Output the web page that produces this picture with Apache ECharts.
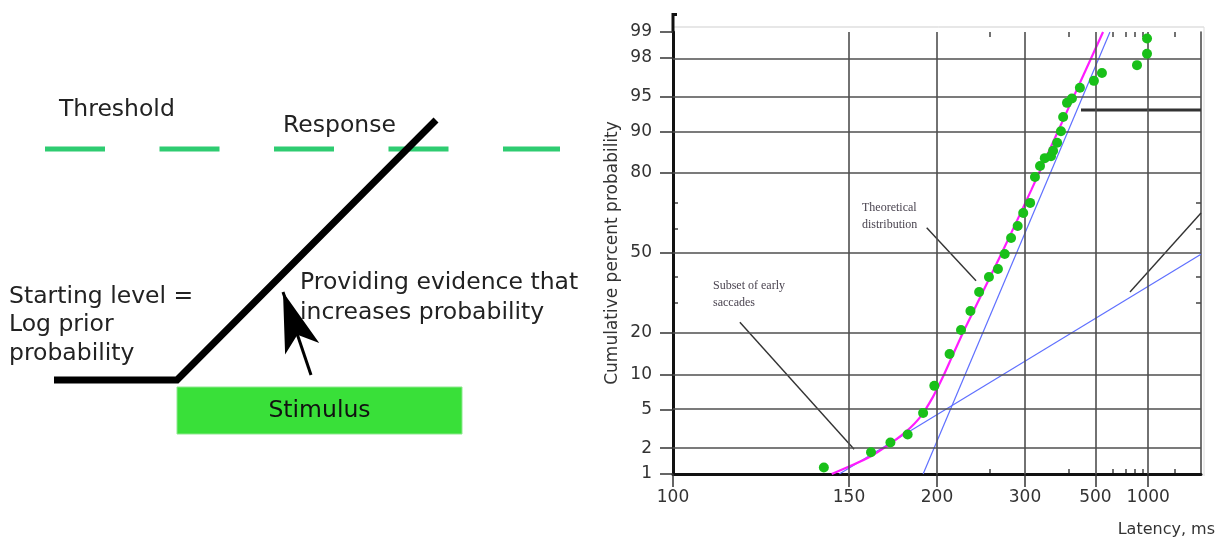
<!DOCTYPE html>
<html>
<head>
<meta charset="utf-8">
<script src="https://cdn.jsdelivr.net/npm/echarts@6/dist/echarts.min.js"></script>
<style>
  html, body { margin: 0; padding: 0; background: #fff; }
  #chart { width: 1223px; height: 540px; }
</style>
</head>
<body>
<div id="chart"></div>
<script>
// ---- LATER model sketch (diagram units: time across, decision level up) ----
const thresholdTime = [4.5, 56];
const thresholdLevel = [39.1, 39.1];
const responseTime = [5.4, 17.7, 43.6];
const responseLevel = [16, 16, 42];
const stimulusTime = [17.7, 46.2];
const stimulusLevel = [10.6, 15.3];
const evidenceArrowTime = [31.1, 28.3];
const evidenceArrowLevel = [16.5, 24.8];

// ---- Reciprobit plot: saccade latency (ms) vs cumulative percent ----
const latencyTicks = [100, 150, 200, 300, 500, 1000];
const latencyMinorTicks = [250, 400, 600, 700, 800, 900, 2000];
const percentTicks = [1, 2, 5, 10, 20, 50, 80, 90, 95, 98, 99];
const percentMinorTicks = [30, 40, 60, 70];

const saccadeLatency = [140, 160, 170, 180, 190, 198, 210, 220, 229, 238, 249, 260, 269, 278, 288, 297, 309,
  318, 328, 338, 352, 357, 367, 377, 383, 394, 409, 436, 493, 533, 825, 978, 978];
const saccadePercent = [1.2, 1.8, 2.3, 2.8, 4.6, 8.1, 14.4, 20.9, 27.1, 34.1, 40.0, 43.3, 49.6, 56.3, 61.2, 66.3, 70.1,
  78.8, 82.0, 84.1, 84.6, 85.9, 87.7, 90.0, 92.4, 94.3, 94.8, 95.9, 96.5, 97.1, 97.6, 98.2, 98.8];

const theoryLatency = [143, 152, 159.5, 168, 179, 188, 197, 205, 212, 223, 265, 311, 396, 539];
const theoryPercent = [1, 1.3, 1.6, 2.1, 3.0, 4.2, 6.5, 9.8, 13.7, 20.9, 50, 74.6, 93.4, 99];

const mainLineLatency = [190, 580];
const mainLinePercent = [1, 99];
const earlyLineLatency = [146, Infinity];
const earlyLinePercent = [1, 49.5];

// pointer lines for the annotations
const theoryPointerLatency = [192.5, 234.7];
const theoryPointerPercent = [60.5, 38.5];
const earlyPointerLatency = [114.5, 152.2];
const earlyPointerPercent = [23.3, 1.94];
const sidePointerLatency = [743.5, Infinity];
const sidePointerPercent = [34.1, 66.3];
const sideBarLatency = [440, Infinity];
const sideBarPercent = [93.4, 93.4];

// inverse normal CDF (Acklam), used for the probit axis
function probit(pct) {
  const p = pct / 100;
  const a = [-39.69683028665376, 220.9460984245205, -275.9285104469687, 138.3577518672690, -30.66479806614716, 2.506628277459239];
  const b = [-54.47609879822406, 161.5858368580409, -155.6989798598866, 66.80131188771972, -13.28068155288572];
  const c = [-0.007784894002430293, -0.3223964580411365, -2.400758277161838, -2.549732539343734, 4.374664141464968, 2.938163982698783];
  const d = [0.007784695709041462, 0.3224671290700398, 2.445134137142996, 3.754408661907416];
  const pl = 0.02425;
  let q, r;
  if (p < pl) {
    q = Math.sqrt(-2 * Math.log(p));
    return (((((c[0]*q+c[1])*q+c[2])*q+c[3])*q+c[4])*q+c[5]) / ((((d[0]*q+d[1])*q+d[2])*q+d[3])*q+1);
  }
  if (p <= 1 - pl) {
    q = p - 0.5; r = q * q;
    return (((((a[0]*r+a[1])*r+a[2])*r+a[3])*r+a[4])*r+a[5])*q / (((((b[0]*r+b[1])*r+b[2])*r+b[3])*r+b[4])*r+1);
  }
  q = Math.sqrt(-2 * Math.log(1 - p));
  return -(((((c[0]*q+c[1])*q+c[2])*q+c[3])*q+c[4])*q+c[5]) / ((((d[0]*q+d[1])*q+d[2])*q+d[3])*q+1);
}
// reciprocal latency axis: -1/t (in 1/s), infinity sits at 0
const recip = t => -1000 / t;
const toPlot = (lat, pct) => lat.map((t, i) => [recip(t), probit(pct[i])]);
const zip = (xs, ys) => xs.map((x, i) => [x, ys[i]]);

const percentLabel = z => {
  let best = percentTicks[0];
  for (const p of percentTicks) if (Math.abs(probit(p) - z) < Math.abs(probit(best) - z)) best = p;
  return String(best);
};

const FONT = 'DejaVu Sans';
const GRID_COLOR = '#4f4f4f';
const pctMin = probit(percentTicks[0]);
const pctMax = probit(percentTicks[percentTicks.length - 1]);

const chart = echarts.init(document.getElementById('chart'), null, { renderer: 'canvas' });

const hidden = { show: false };
const minorTick = values => ({ show: true, inside: true, customValues: values, length: 5, lineStyle: { color: '#444', width: 1.5 } });
const option = {
  backgroundColor: '#fff',
  animation: false,
  grid: [
    { left: 0, top: 0, width: 600, height: 540 },
    { left: 673, top: 32, width: 528, height: 442 }
  ],
  xAxis: [
    { gridIndex: 0, type: 'value', min: 0, max: 60, show: false },
    {
      gridIndex: 1, type: 'value', min: -10, max: 0, position: 'bottom', z: 3,
      axisLine: { show: true, onZero: false, lineStyle: { color: '#111', width: 3 } },
      axisTick: { show: true, customValues: latencyTicks.map(recip), length: 13, lineStyle: { color: '#333', width: 1.5 } },
      axisLabel: { customValues: latencyTicks.map(recip), formatter: v => String(Math.round(-1000 / v)),
        fontFamily: FONT, fontSize: 17, color: '#333', margin: 15 },
      splitLine: hidden,
      name: 'Latency, ms', nameLocation: 'end', nameGap: 14,
      nameTextStyle: { fontFamily: FONT, fontSize: 16, color: '#333', align: 'right', verticalAlign: 'top', padding: [48, 0, 0, 0] }
    },
    {
      gridIndex: 1, type: 'value', min: -10, max: 0, position: 'top',
      axisLine: { show: false, onZero: false }, axisLabel: hidden, splitLine: hidden,
      axisTick: minorTick(latencyMinorTicks.map(recip))
    },
    {
      gridIndex: 1, type: 'value', min: -10, max: 0, position: 'bottom',
      axisLine: { show: false, onZero: false }, axisLabel: hidden, splitLine: hidden,
      axisTick: minorTick(latencyMinorTicks.map(recip))
    }
  ],
  yAxis: [
    { gridIndex: 0, type: 'value', min: 0, max: 54, show: false },
    {
      gridIndex: 1, type: 'value', min: pctMin, max: pctMax, position: 'left', z: 3,
      axisLine: { show: true, onZero: false, lineStyle: { color: '#111', width: 3 } },
      axisTick: { show: true, customValues: percentTicks.map(probit), length: 13, lineStyle: { color: '#333', width: 1.5 } },
      axisLabel: { customValues: percentTicks.map(probit), formatter: percentLabel,
        fontFamily: FONT, fontSize: 17, color: '#333', margin: 21 },
      splitLine: hidden,
      name: 'Cumulative percent probability', nameLocation: 'middle', nameGap: 52, nameRotate: 90,
      nameTextStyle: { fontFamily: FONT, fontSize: 17, color: '#333' }
    },
    {
      gridIndex: 1, type: 'value', min: pctMin, max: pctMax, position: 'right',
      axisLine: { show: true, onZero: false, lineStyle: { color: GRID_COLOR, width: 1.6 } }, axisLabel: hidden, splitLine: hidden,
      axisTick: minorTick(percentMinorTicks.map(probit))
    },
    {
      gridIndex: 1, type: 'value', min: pctMin, max: pctMax, position: 'left',
      axisLine: { show: false, onZero: false }, axisLabel: hidden, splitLine: hidden,
      axisTick: minorTick(percentMinorTicks.map(probit))
    }
  ],
  series: [
    // ---------- LATER diagram ----------
    {
      name: 'Threshold', type: 'line', xAxisIndex: 0, yAxisIndex: 0,
      data: zip(thresholdTime, thresholdLevel), showSymbol: false, silent: true,
      lineStyle: { color: '#2ecc71', width: 5, type: [60, 54.5], cap: 'butt' }
    },
    {
      name: 'Stimulus', type: 'line', xAxisIndex: 0, yAxisIndex: 0, data: [], silent: true,
      markArea: {
        silent: true,
        itemStyle: { color: '#39e039', borderColor: '#8fe88f', borderWidth: 1 },
        label: { show: true, position: 'inside', formatter: 'Stimulus', fontFamily: FONT, fontSize: 23.5, color: '#111' },
        data: [[{ coord: [stimulusTime[0], stimulusLevel[1]] }, { coord: [stimulusTime[1], stimulusLevel[0]] }]]
      }
    },
    {
      name: 'Decision signal', type: 'line', xAxisIndex: 0, yAxisIndex: 0,
      data: zip(responseTime, responseLevel), showSymbol: false, silent: true,
      lineStyle: { color: '#000', width: 7, cap: 'butt', join: 'miter' }
    },
    {
      name: 'Evidence', type: 'line', xAxisIndex: 0, yAxisIndex: 0, data: [], silent: true,
      markLine: {
        silent: true, symbol: ['none', 'arrow'], symbolSize: [27, 60],
        label: { show: false },
        lineStyle: { color: '#000', width: 3, type: 'solid' },
        itemStyle: { color: '#000' },
        data: [[{ coord: [evidenceArrowTime[0], evidenceArrowLevel[0]] }, { coord: [evidenceArrowTime[1], evidenceArrowLevel[1]] }]]
      }
    },
    // ---------- reciprobit plot ----------
    {
      name: 'grid', type: 'line', xAxisIndex: 1, yAxisIndex: 1, data: [], silent: true, z: 1,
      markLine: {
        silent: true, symbol: 'none', label: { show: false },
        lineStyle: { color: GRID_COLOR, width: 1.6, type: 'solid' },
        data: [
          ...percentTicks.slice(1).map(p => ({ yAxis: probit(p) })),
          ...latencyTicks.slice(1).map(t => ({ xAxis: recip(t) }))
        ]
      }
    },
    {
      name: 'Main population', type: 'line', xAxisIndex: 1, yAxisIndex: 1, z: 3,
      data: toPlot(mainLineLatency, mainLinePercent), showSymbol: false,
      lineStyle: { color: '#5f70ff', width: 1.2 }
    },
    {
      name: 'Early saccades', type: 'line', xAxisIndex: 1, yAxisIndex: 1, z: 3,
      data: toPlot(earlyLineLatency, earlyLinePercent), showSymbol: false,
      lineStyle: { color: '#5f70ff', width: 1.2 }
    },
    {
      name: 'Theoretical distribution', type: 'line', xAxisIndex: 1, yAxisIndex: 1, z: 4,
      data: toPlot(theoryLatency, theoryPercent), showSymbol: false, smooth: 0.25,
      lineStyle: { color: '#ff1cff', width: 2.2 }
    },
    {
      name: 'Saccades', type: 'scatter', xAxisIndex: 1, yAxisIndex: 1, z: 5,
      data: toPlot(saccadeLatency, saccadePercent), symbolSize: 10,
      itemStyle: { color: '#19c019', opacity: 1 }
    },
    ...[
      [theoryPointerLatency, theoryPointerPercent, 1.4],
      [earlyPointerLatency, earlyPointerPercent, 1.4],
      [sidePointerLatency, sidePointerPercent, 1.4],
      [sideBarLatency, sideBarPercent, 3]
    ].map(([lat, pct, w]) => ({
      type: 'line', xAxisIndex: 1, yAxisIndex: 1, z: 4, silent: true,
      data: toPlot(lat, pct), showSymbol: false,
      lineStyle: { color: '#333', width: w }
    }))
  ],
  graphic: [
    { type: 'text', x: 59, y: 110, style: { text: 'Threshold', font: `23.5px "${FONT}"`, fill: '#222', verticalAlign: 'middle' } },
    { type: 'text', x: 283, y: 126, style: { text: 'Response', font: `23.5px "${FONT}"`, fill: '#222', verticalAlign: 'middle' } },
    { type: 'text', x: 9, y: 282.5, style: { text: 'Starting level =\nLog prior\nprobability', font: `23.5px "${FONT}"`, lineHeight: 28.5, fill: '#222', verticalAlign: 'top' } },
    { type: 'text', x: 300, y: 268, style: { text: 'Providing evidence that\nincreases probability', font: `23.5px "${FONT}"`, lineHeight: 30, fill: '#222', verticalAlign: 'top' } },
    { type: 'text', x: 862, y: 199, style: { text: 'Theoretical\ndistribution', font: '12px "Liberation Serif"', lineHeight: 17, fill: '#4a4450', verticalAlign: 'top' } },
    { type: 'text', x: 713, y: 277, style: { text: 'Subset of early\nsaccades', font: '12px "Liberation Serif"', lineHeight: 17, fill: '#4a4450', verticalAlign: 'top' } },
    // light frame and axis stub above the plot
    { type: 'line', shape: { x1: 673, y1: 27, x2: 1204, y2: 27 }, style: { stroke: '#cfcfcf', lineWidth: 1 } },
    { type: 'line', shape: { x1: 1204, y1: 27, x2: 1204, y2: 476 }, style: { stroke: '#dcdcdc', lineWidth: 1 } },
    { type: 'line', shape: { x1: 673, y1: 13, x2: 673, y2: 33 }, style: { stroke: '#111', lineWidth: 3 } },
    { type: 'line', shape: { x1: 673, y1: 14.5, x2: 677, y2: 14.5 }, style: { stroke: '#111', lineWidth: 3 } }
  ]
};
chart.setOption(option);
</script>
</body>
</html>
